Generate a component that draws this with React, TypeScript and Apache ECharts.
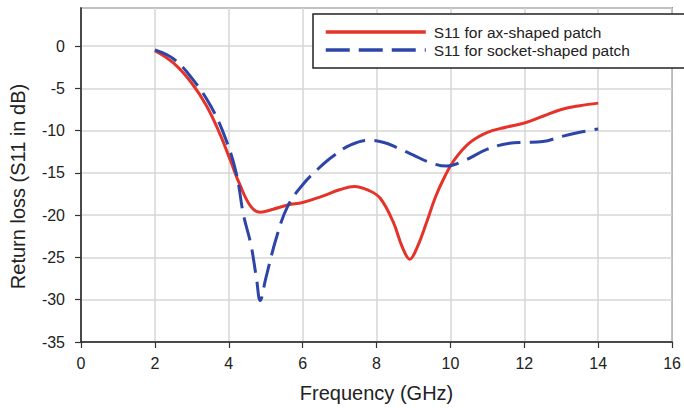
import React, { useEffect, useRef } from "react";
import * as echarts from "echarts";

const axFreq = [2.0, 2.5, 3.0, 3.4, 3.75, 4.05, 4.3, 4.6, 4.85, 5.2, 5.6, 6.0, 6.5, 7.0, 7.4, 7.8, 8.1, 8.45, 8.7, 8.9, 9.1, 9.35, 9.6, 9.85, 10.1, 10.5, 11.0, 11.5, 12.0, 12.5, 13.0, 13.5, 14.0];
const axS11 = [-0.55, -2.0, -4.4, -7.1, -10.3, -13.6, -16.4, -19.0, -19.65, -19.3, -18.8, -18.5, -17.8, -17.0, -16.6, -17.1, -18.0, -20.8, -23.8, -25.2, -23.8, -20.9, -17.8, -15.4, -13.5, -11.5, -10.2, -9.6, -9.1, -8.3, -7.5, -7.05, -6.75];

const socketFreq = [2.0, 2.5, 3.0, 3.5, 3.9, 4.2, 4.4, 4.6, 4.75, 4.85, 5.0, 5.3, 5.6, 6.0, 6.4, 6.8, 7.3, 7.8, 8.2, 8.6, 9.0, 9.4, 9.9, 10.35, 11.0, 11.6, 12.0, 12.5, 13.0, 13.5, 14.0];
const socketS11 = [-0.45, -1.5, -3.8, -7.0, -10.8, -15.0, -20.0, -23.5, -27.5, -30.1, -27.5, -22.5, -18.9, -16.4, -14.6, -13.1, -11.7, -11.15, -11.4, -12.1, -12.9, -13.7, -14.2, -13.6, -12.2, -11.5, -11.4, -11.3, -10.7, -10.2, -9.8];

const seriesNames = ["S11 for ax-shaped patch", "S11 for socket-shaped patch"];
const xAxisTitle = "Frequency (GHz)";
const yAxisTitle = "Return loss (S11 in dB)";

const FONT = "'Liberation Sans', Arial, Helvetica, sans-serif";

export default function App() {
  const ref = useRef<HTMLDivElement>(null);
  useEffect(() => {
    if (!ref.current) return;
    const chart = echarts.init(ref.current, undefined, { renderer: "svg" });
    const pair = (xs: number[], ys: number[]) => xs.map((x, i) => [x, ys[i]]);
    chart.setOption({
      animation: false,
      backgroundColor: "#ffffff",
      textStyle: { fontFamily: FONT },
      grid: {
        left: 79,
        right: 11,
        top: 8,
        bottom: 65,
        show: true,
        borderColor: "#555555",
        borderWidth: 1.5,
      },
      legend: {
        left: 313,
        top: 14,
        orient: "vertical",
        padding: [10, 62, 10, 11],
        itemGap: 2,
        itemWidth: 100,
        itemHeight: 14,
        backgroundColor: "#ffffff",
        borderColor: "#222222",
        borderWidth: 1.5,
        itemStyle: { opacity: 0 },
        lineStyle: { width: 3.5 },
        textStyle: { fontSize: 15.5, color: "#222222", fontFamily: FONT, padding: [0, 0, 0, 3] },
        data: seriesNames,
      },
      xAxis: {
        type: "value",
        min: 0,
        max: 16,
        interval: 2,
        name: xAxisTitle,
        nameLocation: "middle",
        nameGap: 41,
        nameTextStyle: { fontSize: 20, color: "#222222", fontFamily: FONT },
        axisLine: { onZero: false, lineStyle: { color: "#222222", width: 1.5 } },
        axisTick: { show: true, length: 6, lineStyle: { color: "#333333", width: 1.2 } },
        axisLabel: { fontSize: 16, color: "#222222", margin: 13, fontFamily: FONT },
        splitLine: { show: true, lineStyle: { color: "#d6d6d6", width: 1.5 } },
      },
      yAxis: {
        type: "value",
        min: -35,
        max: 4.5,
        interval: 5,
        name: yAxisTitle,
        nameLocation: "middle",
        nameGap: 53,
        nameTextStyle: { fontSize: 20, color: "#222222", fontFamily: FONT, padding: [0, 23, 0, 0] },
        axisLine: { onZero: false, lineStyle: { color: "#222222", width: 1.5 } },
        axisTick: { show: true, length: 6, lineStyle: { color: "#333333", width: 1.2 } },
        axisLabel: { fontSize: 16, color: "#222222", margin: 16, showMaxLabel: false, fontFamily: FONT },
        splitLine: { show: true, lineStyle: { color: "#d6d6d6", width: 1.5 } },
      },
      series: [
        {
          name: seriesNames[0],
          type: "line",
          data: pair(axFreq, axS11),
          smooth: 0.4,
          showSymbol: false,
          symbol: "none",
          lineStyle: { color: "#e5332a", width: 3 },
          itemStyle: { color: "#e5332a" },
          z: 3,
        },
        {
          name: seriesNames[1],
          type: "line",
          data: pair(socketFreq, socketS11),
          smooth: 0.4,
          showSymbol: false,
          symbol: "none",
          lineStyle: { color: "#2e45a8", width: 3, type: [24, 9] },
          itemStyle: { color: "#2e45a8" },
          z: 4,
        },
      ],
    });
    return () => chart.dispose();
  }, []);
  return (
    <div
      ref={ref}
      style={{ position: "fixed", left: 0, top: 0, width: 684, height: 408 }}
    />
  );
}
